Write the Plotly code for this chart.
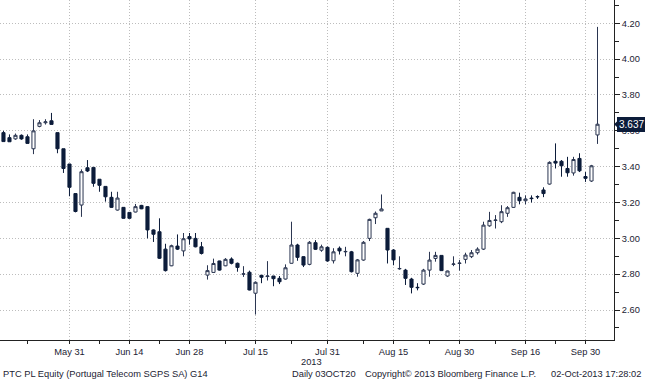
import plotly.graph_objects as go
import pandas as pd

# ---- data ----
dates = [d.strftime("%Y-%m-%d") for d in pd.bdate_range("2013-05-16", "2013-10-02")]

opens = [3.590, 3.562, 3.555, 3.575, 3.567, 3.500, 3.625, 3.645, 3.656, 3.590,
         3.500, 3.415, 3.250, 3.186, 3.394, 3.396, 3.330, 3.290, 3.229, 3.158,
         3.173, 3.145, 3.147, 3.184, 3.177, 3.047, 3.037, 2.940, 2.847, 2.957,
         2.930, 3.010, 3.000, 2.953, 2.795, 2.810, 2.874, 2.847, 2.885, 2.861,
         2.800, 2.811, 2.694, 2.794, 2.787, 2.790, 2.777, 2.773, 2.861, 2.963,
         2.898, 2.855, 2.976, 2.934, 2.950, 2.875, 2.945, 2.925, 2.925, 2.805,
         2.879, 3.000, 3.115, 3.153, 3.056, 2.935, 2.830, 2.823, 2.773, 2.727,
         2.745, 2.823, 2.888, 2.905, 2.790, 2.855, 2.860, 2.883, 2.898, 2.920,
         2.940, 3.070, 3.100, 3.093, 3.140, 3.173, 3.229, 3.210, 3.225, 3.233,
         3.270, 3.303, 3.430, 3.430, 3.390, 3.365, 3.446, 3.345, 3.320, 3.577]
highs = [3.600, 3.580, 3.585, 3.580, 3.580, 3.665, 3.660, 3.665, 3.700, 3.590,
         3.500, 3.415, 3.250, 3.385, 3.437, 3.396, 3.330, 3.290, 3.260, 3.260,
         3.175, 3.145, 3.192, 3.187, 3.180, 3.050, 3.112, 2.970, 2.965, 3.022,
         3.030, 3.030, 3.030, 2.980, 2.850, 2.887, 2.875, 2.890, 2.894, 2.865,
         2.845, 2.820, 2.760, 2.795, 2.873, 2.790, 2.790, 2.855, 3.093, 2.970,
         2.900, 2.985, 2.990, 2.965, 2.955, 2.945, 2.955, 2.953, 2.930, 2.885,
         2.985, 3.110, 3.150, 3.245, 3.056, 2.940, 2.900, 2.830, 2.780, 2.750,
         2.830, 2.925, 2.925, 2.905, 2.820, 2.900, 2.880, 2.920, 2.935, 2.950,
         3.093, 3.148, 3.130, 3.185, 3.180, 3.260, 3.255, 3.240, 3.240, 3.240,
         3.285, 3.430, 3.530, 3.437, 3.455, 3.455, 3.475, 3.370, 3.410, 4.180]
lows = [3.540, 3.539, 3.550, 3.550, 3.530, 3.470, 3.620, 3.635, 3.636, 3.475,
        3.365, 3.235, 3.145, 3.120, 3.370, 3.288, 3.260, 3.205, 3.170, 3.155,
        3.110, 3.110, 3.145, 3.163, 3.000, 2.980, 2.885, 2.815, 2.845, 2.935,
        2.900, 2.965, 2.950, 2.910, 2.770, 2.810, 2.820, 2.845, 2.855, 2.814,
        2.785, 2.710, 2.575, 2.750, 2.765, 2.733, 2.745, 2.770, 2.860, 2.875,
        2.840, 2.850, 2.935, 2.925, 2.870, 2.860, 2.910, 2.900, 2.810, 2.786,
        2.875, 2.985, 3.080, 3.153, 2.860, 2.850, 2.825, 2.740, 2.693, 2.710,
        2.740, 2.786, 2.870, 2.820, 2.785, 2.845, 2.820, 2.860, 2.890, 2.910,
        2.935, 3.065, 3.055, 3.085, 3.120, 3.170, 3.190, 3.190, 3.200, 3.220,
        3.230, 3.300, 3.390, 3.344, 3.344, 3.350, 3.370, 3.315, 3.315, 3.527]
closes = [3.540, 3.539, 3.575, 3.555, 3.530, 3.600, 3.645, 3.650, 3.636, 3.500,
          3.390, 3.285, 3.150, 3.372, 3.376, 3.307, 3.296, 3.232, 3.173, 3.225,
          3.112, 3.112, 3.177, 3.165, 3.047, 3.023, 2.889, 2.820, 2.959, 2.940,
          2.998, 2.997, 2.953, 2.916, 2.820, 2.860, 2.823, 2.883, 2.861, 2.838,
          2.802, 2.712, 2.755, 2.783, 2.790, 2.775, 2.758, 2.836, 2.963, 2.894,
          2.851, 2.978, 2.939, 2.953, 2.874, 2.925, 2.930, 2.927, 2.814, 2.880,
          2.978, 3.106, 3.140, 3.164, 2.935, 2.880, 2.832, 2.777, 2.727, 2.725,
          2.823, 2.879, 2.905, 2.820, 2.818, 2.857, 2.862, 2.907, 2.920, 2.940,
          3.074, 3.100, 3.102, 3.149, 3.171, 3.257, 3.210, 3.220, 3.222, 3.232,
          3.250, 3.424, 3.420, 3.405, 3.366, 3.440, 3.377, 3.335, 3.405, 3.637]

label_dates = ["2013-05-31", "2013-06-14", "2013-06-28", "2013-07-15", "2013-07-31",
               "2013-08-15", "2013-08-30", "2013-09-16", "2013-09-30"]
label_texts = ["May 31", "Jun 14", "Jun 28", "Jul 15", "Jul 31",
               "Aug 15", "Aug 30", "Sep 16", "Sep 30"]
minor_dates = ["2013-05-22", "2013-06-07", "2013-06-21", "2013-07-08", "2013-07-23",
               "2013-08-08", "2013-08-23", "2013-09-09", "2013-09-23"]
y_ticks = [2.60, 2.80, 3.00, 3.20, 3.40, 3.60, 3.80, 4.00, 4.20]
y_minor = [2.50, 2.70, 2.90, 3.10, 3.30, 3.50, 3.70, 3.90, 4.10, 4.30]
last_price = 3.637

# ---- style ----
FONT = "Liberation Sans, Arial, sans-serif"
NAVY = "#0c1c3a"
TXT = "#1b2232"
GRID = "#bdbdbd"
FS = 9.3

xi = list(range(len(dates)))
tickvals = [dates.index(d) for d in label_dates]
minorvals = [dates.index(d) for d in minor_dates]

fig = go.Figure()
fig.add_trace(go.Candlestick(
    x=xi, open=opens, high=highs, low=lows, close=closes,
    increasing=dict(line=dict(color="#2a3550", width=1), fillcolor="white"),
    decreasing=dict(line=dict(color=NAVY, width=1), fillcolor=NAVY),
    whiskerwidth=0, showlegend=False, hoverinfo="skip",
))

fig.update_layout(
    width=645, height=380,
    margin=dict(l=0, r=31, t=0, b=40),
    paper_bgcolor="white", plot_bgcolor="white",
    boxgap=0.26,
    font=dict(family=FONT, size=FS, color=TXT),
    xaxis=dict(
        range=[-0.58, 101.75], rangeslider=dict(visible=False),
        tickmode="array", tickvals=tickvals, ticktext=label_texts,
        showgrid=True, gridcolor=GRID, griddash="1px,2px", gridwidth=1,
        ticks="outside", ticklen=3, tickcolor="#222", tickwidth=1,
        showline=True, linecolor="#222", linewidth=1,
        tickfont=dict(family=FONT, size=FS, color=TXT),
        minor=dict(tickvals=minorvals, ticks="outside", ticklen=3, tickcolor="#222", showgrid=False),
        zeroline=False, fixedrange=True,
    ),
    yaxis=dict(
        side="right", range=[2.433, 4.33],
        tickmode="array", tickvals=y_ticks, ticktext=["%.2f" % v for v in y_ticks],
        showgrid=True, gridcolor=GRID, griddash="1px,2px", gridwidth=1,
        ticks="outside", ticklen=5, tickcolor="#222", tickwidth=1,
        showline=True, linecolor="#222", linewidth=1,
        tickfont=dict(family=FONT, size=FS, color=TXT),
        minor=dict(tickvals=y_minor, ticks="outside", ticklen=4, tickcolor="#222", showgrid=False),
        zeroline=False, fixedrange=True,
    ),
)

# last price tag
fig.add_annotation(
    xref="paper", yref="y", x=1, y=last_price, xanchor="left", yanchor="middle",
    xshift=3, text="%.3f" % last_price, showarrow=False,
    bgcolor=NAVY, bordercolor=NAVY, borderpad=1,
    font=dict(family=FONT, size=10, color="white"),
)
fig.add_shape(
    type="path", xref="paper", yref="y",
    path="M 1.0 %f L 1.008 %f L 1.008 %f Z" % (last_price, last_price + 0.025, last_price - 0.025),
    fillcolor=NAVY, line=dict(width=0),
)

# year label and footer
fig.add_annotation(xref="x", yref="paper", x=dates.index("2013-07-31") - 2.6, y=0,
                   yshift=-22, yanchor="middle", text="2013", showarrow=False,
                   font=dict(family=FONT, size=FS, color=TXT))
footer = [(1, "PTC PL Equity (Portugal Telecom SGPS SA) G14"),
          (290, "Daily 03OCT20"),
          (363, "Copyright© 2013 Bloomberg Finance L.P."),
          (549, "02-Oct-2013 17:28:02")]
for px, t in footer:
    fig.add_annotation(xref="paper", yref="paper", x=px / 614.0, y=0, xanchor="left",
                       yanchor="middle", yshift=-33.5, text=t, showarrow=False,
                       font=dict(family=FONT, size=FS, color=TXT))

fig.write_html("out.html", config={"displayModeBar": False},
               post_script="document.body.style.margin='0';document.body.style.overflow='hidden';")
